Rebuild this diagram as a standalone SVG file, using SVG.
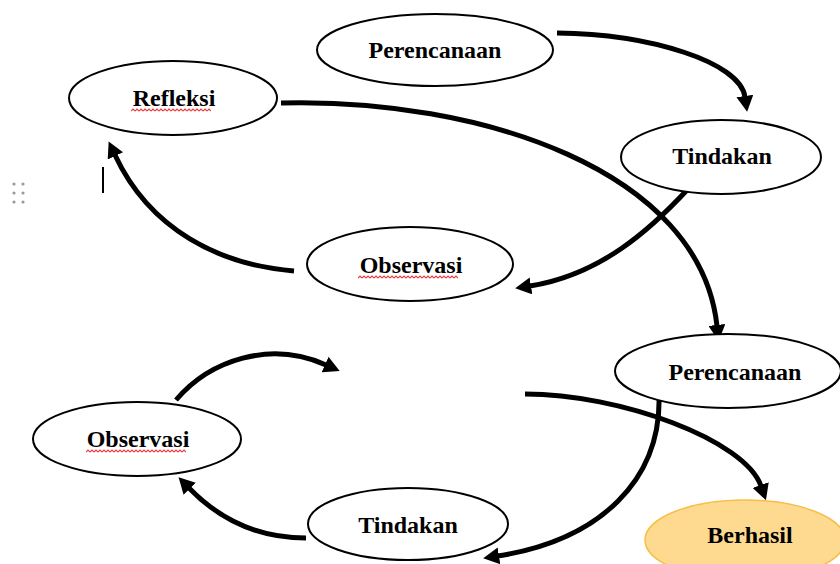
<svg xmlns="http://www.w3.org/2000/svg" width="840" height="564" viewBox="0 0 840 564">
  <style>
    .node { fill: #ffffff; stroke: #000000; stroke-width: 2; }
    .goal { fill: #fed990; stroke: #f5c04a; stroke-width: 1.5; }
    .label { font-family: "Liberation Serif", "Times New Roman", serif; font-weight: bold; font-size: 24px; fill: #000000; text-anchor: middle; }
    .arrow { fill: none; stroke: #000000; stroke-width: 5; marker-end: url(#head); }
    .wavy { fill: url(#wavy); stroke: none; }
    .dot { fill: #9a9a9a; }
  </style>
  <defs>
    <marker id="head" viewBox="0 0 16 17" markerWidth="16" markerHeight="17" refX="1" refY="8.5" orient="auto" markerUnits="userSpaceOnUse">
      <path d="M0,0 L16,8.5 L0,17 Z" fill="#000000"/>
    </marker>
    <pattern id="wavy" width="4" height="4" patternUnits="userSpaceOnUse">
      <path d="M0,3 L2,1 L4,3" fill="none" stroke="#e8393a" stroke-width="1.1"/>
    </pattern>
  </defs>
  <rect width="840" height="564" fill="#ffffff"/>

  <g id="connectors">
    <path class="arrow" d="M557,33 C650,34 740,62 745,97"/>
    <path class="arrow" d="M281,103 C480,98 700,170 717,326"/>
    <path class="arrow" d="M688,189 C650,230 600,275 530,286"/>
    <path class="arrow" d="M294,271 C220,265 150,230 115,155"/>
    <path class="arrow" d="M176,400 C210,360 270,340 326,365"/>
    <path class="arrow" d="M306,538 C260,538 220,520 189,488"/>
    <path class="arrow" d="M659,394 C662,480 600,540 498,556"/>
    <path class="arrow" d="M525,394 C620,394 745,440 761,486"/>
  </g>

  <g id="perencanaan-1">
    <ellipse class="node" cx="435" cy="50" rx="118" ry="36"/>
    <text class="label" x="435" y="58">Perencanaan</text>
  </g>
  <g id="refleksi">
    <ellipse class="node" cx="173" cy="98" rx="104" ry="37"/>
    <text class="label" x="174" y="106">Refleksi</text>
    <g transform="translate(131,108)"><rect class="wavy" width="80" height="4"/></g>
  </g>
  <g id="tindakan-1">
    <ellipse class="node" cx="721" cy="157" rx="100" ry="37"/>
    <text class="label" x="722" y="164">Tindakan</text>
  </g>
  <g id="observasi-1">
    <ellipse class="node" cx="410" cy="264" rx="103" ry="37"/>
    <text class="label" x="411" y="273">Observasi</text>
    <g transform="translate(358,275)"><rect class="wavy" width="100" height="4"/></g>
  </g>
  <g id="perencanaan-2">
    <ellipse class="node" cx="728" cy="371" rx="113" ry="37"/>
    <text class="label" x="735" y="380">Perencanaan</text>
  </g>
  <g id="berhasil">
    <ellipse class="goal" cx="745" cy="540" rx="100" ry="40"/>
    <text class="label" x="750" y="543">Berhasil</text>
  </g>
  <g id="observasi-2">
    <ellipse class="node" cx="137" cy="439" rx="104" ry="37"/>
    <text class="label" x="138" y="447">Observasi</text>
    <g transform="translate(86,449)"><rect class="wavy" width="100" height="4"/></g>
  </g>
  <g id="tindakan-2">
    <ellipse class="node" cx="408" cy="524" rx="100" ry="36"/>
    <text class="label" x="408" y="533">Tindakan</text>
  </g>

  <g id="editor-marks">
    <line x1="103" y1="167" x2="103" y2="193" stroke="#000000" stroke-width="2"/>
    <circle class="dot" cx="14" cy="184" r="1.6"/>
    <circle class="dot" cx="23" cy="184" r="1.6"/>
    <circle class="dot" cx="14" cy="193" r="1.6"/>
    <circle class="dot" cx="23" cy="193" r="1.6"/>
    <circle class="dot" cx="14" cy="202" r="1.6"/>
    <circle class="dot" cx="23" cy="202" r="1.6"/>
  </g>
</svg>
